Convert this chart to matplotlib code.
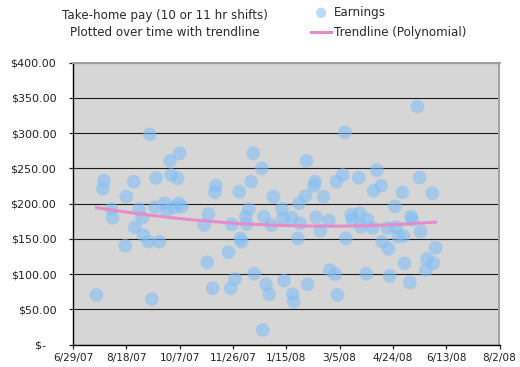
import numpy as np
import pandas as pd
import matplotlib
matplotlib.use("Agg")
import matplotlib.pyplot as plt
import matplotlib.dates as mdates
from matplotlib.ticker import FuncFormatter, MultipleLocator

# Shift dates and take-home pay
shift_dates = [
    "2007-07-21", "2007-07-28", "2007-07-27", "2007-08-04", "2007-08-05", "2007-08-17",
    "2007-08-18", "2007-08-25", "2007-08-26", "2007-08-30", "2007-09-02", "2007-09-03",
    "2007-09-09", "2007-09-08", "2007-09-11", "2007-09-15", "2007-09-14", "2007-09-18",
    "2007-09-23", "2007-09-25", "2007-09-28", "2007-09-29", "2007-10-07", "2007-10-05",
    "2007-10-06", "2007-10-02", "2007-10-09", "2007-10-30", "2007-11-03", "2007-11-02",
    "2007-11-07", "2007-11-10", "2007-11-09", "2007-11-24", "2007-11-22", "2007-11-25",
    "2007-11-28", "2007-12-02", "2007-12-03", "2007-12-04", "2007-12-08", "2007-12-09",
    "2007-12-11", "2007-12-13", "2007-12-15", "2007-12-16", "2007-12-23", "2007-12-25",
    "2007-12-27", "2007-12-30", "2008-01-01", "2008-01-03", "2008-01-11", "2008-01-12",
    "2008-01-13", "2008-01-20", "2008-01-21", "2008-01-22", "2008-01-26", "2008-01-27",
    "2008-01-28", "2008-02-02", "2008-02-03", "2008-02-04", "2008-02-11", "2008-02-10",
    "2008-02-12", "2008-02-16", "2008-02-19", "2008-02-24", "2008-02-25", "2008-03-01",
    "2008-03-03", "2008-03-02", "2008-03-08", "2008-03-10", "2008-03-11", "2008-03-16",
    "2008-03-17", "2008-03-23", "2008-03-24", "2008-03-25", "2008-03-30", "2007-12-24",
    "2008-03-31", "2008-04-05", "2008-04-09", "2008-04-13", "2008-04-06", "2008-04-26",
    "2008-04-19", "2008-04-27", "2008-04-14", "2008-04-20", "2008-04-21", "2008-05-17",
    "2008-05-19", "2008-05-03", "2008-05-31", "2008-05-11", "2008-05-12", "2008-04-29",
    "2008-05-04", "2008-05-20", "2008-05-05", "2008-06-03", "2008-05-26", "2008-06-01",
    "2008-05-25", "2008-05-10",
]
earnings = [
    70.30, 232.50, 221.10, 192.30, 180.00, 140.20,
    209.80, 231.10, 166.40, 192.30, 180.00, 155.40,
    298.40, 145.90, 64.60, 236.30, 194.70, 145.90,
    200.40, 189.90, 260.90, 240.60, 271.40, 235.90,
    200.40, 194.70, 195.60, 169.60, 185.20, 116.70,
    79.80, 225.40, 216.00, 79.80, 130.90, 170.60,
    93.00, 216.90, 150.70, 145.90, 181.40, 171.00,
    192.30, 231.10, 271.40, 100.50, 250.10, 181.40,
    85.40, 71.30, 169.60, 209.80, 192.30, 179.10,
    90.60, 180.00, 71.70, 60.80, 150.70, 200.40,
    172.00, 210.80, 260.90, 85.40, 231.10, 225.00,
    180.50, 161.50, 209.80, 176.00, 105.70, 99.60,
    70.30, 231.10, 240.60, 301.20, 150.70, 183.80,
    176.70, 236.80, 186.20, 167.20, 100.50, 20.60,
    177.70, 165.40, 247.70, 225.40, 218.30, 195.90,
    165.40, 166.80, 145.90, 135.60, 97.20, 337.80,
    236.80, 216.00, 214.60, 181.40, 177.10, 153.30,
    154.00, 160.40, 115.30, 137.40, 121.40, 115.30,
    105.70, 88.00,
]
title_lines = ["Take-home pay (10 or 11 hr shifts)", "Plotted over time with trendline"]
series_names = ["Earnings", "Trendline (Polynomial)"]
x_start, x_end = "2007-06-29", "2008-08-02"
tick_step_days = 50

df = pd.DataFrame({"date": pd.to_datetime(shift_dates), "pay": earnings}).sort_values("date")
x_num = mdates.date2num(df["date"])

# Excel-style 2nd order polynomial trendline over the data range
coef = np.polyfit(x_num, df["pay"], 2)
trend_x = np.linspace(x_num.min(), x_num.max(), 200)
trend_y = np.polyval(coef, trend_x)

plt.rcParams["font.family"] = ["DejaVu Sans"]
fig = plt.figure(figsize=(5.2, 3.67), dpi=100)
ax = fig.add_axes([73 / 520, 1 - 344.5 / 367, (499.5 - 73) / 520, (344.5 - 62.7) / 367])
ax.set_facecolor("#d6d6d6")

dot_color = (125 / 255, 190 / 255, 248 / 255, 0.55)
pts = ax.scatter(df["date"], df["pay"], s=98, color=dot_color, edgecolors="none",
                 zorder=3, label=series_names[0])
trend, = ax.plot(mdates.num2date(trend_x), trend_y, color="#e68cc8", lw=2.2,
                 zorder=4, label=series_names[1])

# Axes ranges and ticks
lo, hi = mdates.datestr2num(x_start), mdates.datestr2num(x_end)
ax.set_xlim(lo, hi)
ax.set_xticks(np.arange(lo, hi + 1, tick_step_days))
ax.xaxis.set_major_formatter(mdates.DateFormatter("%-m/%-d/%y"))
ax.set_ylim(0, 400)
ax.yaxis.set_major_locator(MultipleLocator(50))
ax.yaxis.set_major_formatter(FuncFormatter(lambda v, p: "$-   " if v == 0 else f"${v:,.2f}"))

ax.grid(axis="y", color="#1a1a1a", lw=0.8, zorder=1)
ax.set_axisbelow(True)
for side in ("top", "right"):
    ax.spines[side].set_color("#a0a0a0")
    ax.spines[side].set_linewidth(1.4)
for side in ("left", "bottom"):
    ax.spines[side].set_color("black")
    ax.spines[side].set_linewidth(1.0)
ax.tick_params(axis="y", direction="out", length=3, width=0.9, pad=9, labelsize=8, colors="#222222")
ax.tick_params(axis="x", direction="out", length=3, width=0.9, pad=3, labelsize=7.6, colors="#222222")

# Title block and legend above the plot
fig.text(165 / 520, 1 - 16 / 367, title_lines[0], ha="center", va="center", fontsize=8.6, color="#2a2a2a")
fig.text(165 / 520, 1 - 32.5 / 367, title_lines[1], ha="center", va="center", fontsize=8.6, color="#2a2a2a")
fig.legend(handles=[pts, trend], labels=series_names, loc="upper left",
           bbox_to_anchor=(311 / 520, 1 - 6 / 367), frameon=False, fontsize=8.6,
           handlelength=1.7, handletextpad=0.2, labelspacing=0.6, borderpad=0,
           borderaxespad=0, markerscale=0.75, labelcolor="#2a2a2a")

fig.savefig("out.png", dpi=100)
